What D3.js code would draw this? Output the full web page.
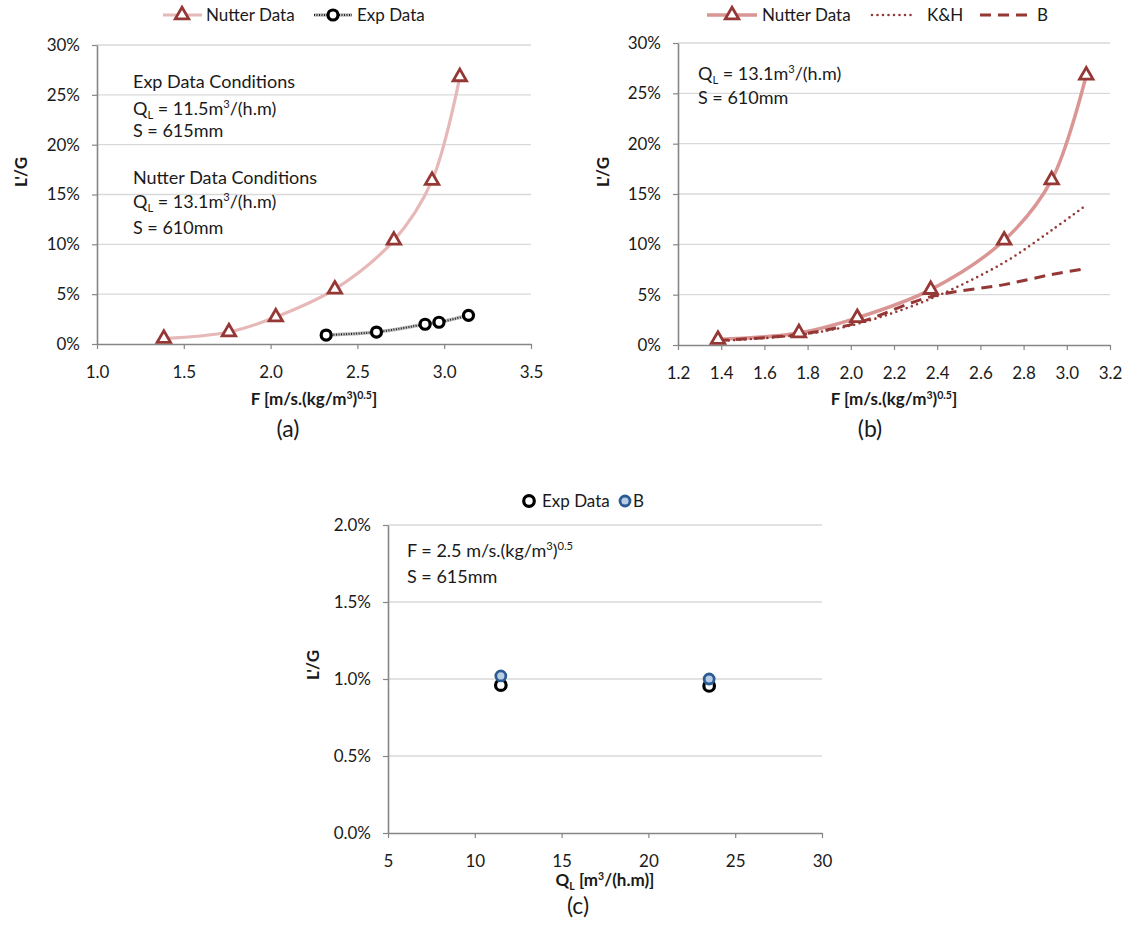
<!DOCTYPE html>
<html>
<head>
<meta charset="utf-8">
<script src="https://cdn.jsdelivr.net/npm/d3@7"></script>
<style>
  body { margin: 0; background: #fff; }
  svg text { font-family: Lato, "Open Sans", sans-serif; fill: #1a1a1a; }
</style>
</head>
<body>
<div id="chart"></div>
<script>
const width = 1130, height = 938;

// Nutter data (F vs L'/G), shared by (a) and (b)
const nutterF = [1.385, 1.76, 2.03, 2.37, 2.71, 2.93, 3.09];
const nutterLG = [0.0055, 0.012, 0.027, 0.055, 0.104, 0.164, 0.268];
// experimental data in (a)
const expF = [2.32, 2.61, 2.89, 2.97, 3.14];
const expLG = [0.009, 0.012, 0.0198, 0.0218, 0.0288];
// model curves in (b)
const khLG = [0.004, 0.010, 0.021, 0.046, 0.082, 0.114, 0.139];
const bLG = [0.0045, 0.0105, 0.022, 0.048, 0.060, 0.070, 0.076];
// (c) L'/G vs QL
const qlVals = [11.5, 23.5];
const expQL = [0.0096, 0.00955];
const bQL = [0.0102, 0.0100];

// tick values
const ticksA = [1.0, 1.5, 2.0, 2.5, 3.0, 3.5];
const ticksB = [1.2, 1.4, 1.6, 1.8, 2.0, 2.2, 2.4, 2.6, 2.8, 3.0, 3.2];
const ticksC = [5, 10, 15, 20, 25, 30];
const yTicksAB = [0, 0.05, 0.10, 0.15, 0.20, 0.25, 0.30];
const yTicksC = [0, 0.005, 0.010, 0.015, 0.020];

const AX = "#868686", GRID = "#d9d9d9", DARKRED = "#953735";

const svg = d3.select("#chart").append("svg")
  .attr("width", width)
  .attr("height", height);

// text with sub / superscripts
function rich(g, x, y, parts, size, weight, anchor) {
  const t = g.append("text").attr("x", x).attr("y", y)
    .attr("font-size", size)
    .attr("font-weight", weight || null)
    .attr("text-anchor", anchor || "start");
  let cur = 0;
  parts.forEach(([s, k]) => {
    const off = k === "sup" ? -0.38 * size : k === "sub" ? 0.22 * size : 0;
    t.append("tspan")
      .attr("dy", off - cur)
      .attr("font-size", k === "n" ? size : size * 0.62)
      .text(s);
    cur = off;
  });
  return t;
}

function frame(x, y, xTicks, yTicks, xFmt, yFmt) {
  const g = svg.append("g");
  g.append("g").selectAll("line")
    .data(yTicks.filter(d => d > 0))
    .join("line")
    .attr("x1", x.range()[0]).attr("x2", x.range()[1])
    .attr("y1", d => y(d)).attr("y2", d => y(d))
    .attr("stroke", GRID).attr("stroke-width", 1.3);

  const xa = g.append("g")
    .attr("transform", `translate(0,${y.range()[0]})`)
    .call(d3.axisBottom(x).tickValues(xTicks).tickFormat(xFmt)
      .tickSize(5).tickSizeOuter(0).tickPadding(17));
  const ya = g.append("g")
    .attr("transform", `translate(${x.range()[0]},0)`)
    .call(d3.axisLeft(y).tickValues(yTicks).tickFormat(yFmt)
      .tickSize(5).tickSizeOuter(0).tickPadding(12));
  [xa, ya].forEach(a => {
    a.attr("font-family", null).attr("font-size", 17);
    a.select(".domain").attr("stroke", AX).attr("stroke-width", 1.6);
    a.selectAll(".tick line").attr("stroke", AX).attr("stroke-width", 1.2);
    a.selectAll(".tick text").attr("fill", "#1a1a1a");
  });
  return g;
}

function yTitle(g, cx, cy) {
  g.append("text")
    .attr("transform", `translate(${cx},${cy}) rotate(-90)`)
    .attr("text-anchor", "middle")
    .attr("font-size", 17).attr("font-weight", "bold")
    .text("L'/G");
}

const triangle = d3.symbol(d3.symbolTriangle, 78);
const fTitle = [["F [m/s.(kg/m", "n"], ["3", "sup"], [")", "n"], ["0.5", "sup"], ["]", "n"]];
const smooth = d3.curveCatmullRom.alpha(0.5);

// ---------- (a) ----------
{
  const x = d3.scaleLinear().domain([1.0, 3.5]).range([97, 531]);
  const y = d3.scaleLinear().domain([0, 0.30]).range([344, 45]);
  const g = frame(x, y, ticksA, yTicksAB, d3.format(".1f"), d3.format(".0%"));

  const line = d3.line().x(d => x(d[0])).y(d => y(d[1])).curve(smooth);
  const nut = nutterF.map((f, i) => [f, nutterLG[i]]);
  const exp = expF.map((f, i) => [f, expLG[i]]);

  g.append("path").attr("d", line(nut)).attr("fill", "none")
    .attr("stroke", "#e6b9b8").attr("stroke-width", 3.2);
  g.append("path").attr("d", line(exp)).attr("fill", "none")
    .attr("stroke", "#bdbdbd").attr("stroke-width", 3.5);
  g.append("path").attr("d", line(exp)).attr("fill", "none")
    .attr("stroke", "#222").attr("stroke-width", 2).attr("stroke-dasharray", "1,1.5");

  g.selectAll(".tri").data(nut).join("path")
    .attr("transform", d => `translate(${x(d[0])},${y(d[1])})`)
    .attr("d", triangle).attr("fill", "#fff")
    .attr("stroke", DARKRED).attr("stroke-width", 2.8);
  g.selectAll(".circ").data(exp).join("circle")
    .attr("cx", d => x(d[0])).attr("cy", d => y(d[1])).attr("r", 5)
    .attr("fill", "#fff").attr("stroke", "#000").attr("stroke-width", 3.2);

  // legend
  g.append("line").attr("x1", 163).attr("x2", 202).attr("y1", 15).attr("y2", 15)
    .attr("stroke", "#e6b9b8").attr("stroke-width", 3.2);
  g.append("path").attr("transform", "translate(182,15)").attr("d", triangle)
    .attr("fill", "#fff").attr("stroke", DARKRED).attr("stroke-width", 2.8);
  g.append("text").attr("x", 206).attr("y", 21).attr("font-size", 17).text("Nutter Data");
  g.append("line").attr("x1", 314).attr("x2", 352).attr("y1", 15).attr("y2", 15)
    .attr("stroke", "#bdbdbd").attr("stroke-width", 3.5);
  g.append("line").attr("x1", 314).attr("x2", 352).attr("y1", 15).attr("y2", 15)
    .attr("stroke", "#222").attr("stroke-width", 2).attr("stroke-dasharray", "1,1.5");
  g.append("circle").attr("cx", 333).attr("cy", 15).attr("r", 5)
    .attr("fill", "#fff").attr("stroke", "#000").attr("stroke-width", 3.2);
  g.append("text").attr("x", 357).attr("y", 21).attr("font-size", 17).text("Exp Data");

  // notes
  g.append("text").attr("x", 133).attr("y", 88).attr("font-size", 18).text("Exp Data Conditions");
  rich(g, 133, 115, [["Q", "n"], ["L", "sub"], [" = 11.5m", "n"], ["3", "sup"], ["/(h.m)", "n"]], 18);
  g.append("text").attr("x", 133).attr("y", 137).attr("font-size", 18).text("S = 615mm");
  g.append("text").attr("x", 133).attr("y", 184).attr("font-size", 18).text("Nutter Data Conditions");
  rich(g, 133, 208, [["Q", "n"], ["L", "sub"], [" = 13.1m", "n"], ["3", "sup"], ["/(h.m)", "n"]], 18);
  g.append("text").attr("x", 133).attr("y", 234).attr("font-size", 18).text("S = 610mm");

  yTitle(g, 27, 172);
  rich(g, 314, 405, fTitle, 17, "bold", "middle");
  g.append("text").attr("x", 288).attr("y", 437).attr("text-anchor", "middle")
    .attr("font-size", 23).text("(a)");
}

// ---------- (b) ----------
{
  const x = d3.scaleLinear().domain([1.2, 3.2]).range([678, 1110]);
  const y = d3.scaleLinear().domain([0, 0.30]).range([345, 43]);
  const g = frame(x, y, ticksB, yTicksAB, d3.format(".1f"), d3.format(".0%"));

  const line = d3.line().x(d => x(d[0])).y(d => y(d[1])).curve(smooth);
  const nut = nutterF.map((f, i) => [f, nutterLG[i]]);
  const kh = nutterF.map((f, i) => [f, khLG[i]]);
  const bb = nutterF.map((f, i) => [f, bLG[i]]);

  g.append("path").attr("d", line(nut)).attr("fill", "none")
    .attr("stroke", "#d99694").attr("stroke-width", 3.5);
  g.append("path").attr("d", line(kh)).attr("fill", "none")
    .attr("stroke", DARKRED).attr("stroke-width", 2.6)
    .attr("stroke-dasharray", "0,5.5").attr("stroke-linecap", "round");
  g.append("path").attr("d", line(bb)).attr("fill", "none")
    .attr("stroke", DARKRED).attr("stroke-width", 3)
    .attr("stroke-dasharray", "11,7");

  g.selectAll(".tri").data(nut).join("path")
    .attr("transform", d => `translate(${x(d[0])},${y(d[1])})`)
    .attr("d", triangle).attr("fill", "#fff")
    .attr("stroke", DARKRED).attr("stroke-width", 2.8);

  // legend
  g.append("line").attr("x1", 707).attr("x2", 757).attr("y1", 15).attr("y2", 15)
    .attr("stroke", "#d99694").attr("stroke-width", 3.5);
  g.append("path").attr("transform", "translate(732,15)").attr("d", triangle)
    .attr("fill", "#fff").attr("stroke", DARKRED).attr("stroke-width", 2.8);
  g.append("text").attr("x", 762).attr("y", 21).attr("font-size", 17).text("Nutter Data");
  g.append("line").attr("x1", 872).attr("x2", 911).attr("y1", 15).attr("y2", 15)
    .attr("stroke", DARKRED).attr("stroke-width", 2.6)
    .attr("stroke-dasharray", "0,5.5").attr("stroke-linecap", "round");
  g.append("text").attr("x", 927).attr("y", 21).attr("font-size", 17).text("K&H");
  g.append("line").attr("x1", 980).attr("x2", 1033).attr("y1", 15).attr("y2", 15)
    .attr("stroke", DARKRED).attr("stroke-width", 3).attr("stroke-dasharray", "11,7");
  g.append("text").attr("x", 1037).attr("y", 21).attr("font-size", 17).text("B");

  rich(g, 698, 80, [["Q", "n"], ["L", "sub"], [" = 13.1m", "n"], ["3", "sup"], ["/(h.m)", "n"]], 18);
  g.append("text").attr("x", 698).attr("y", 104).attr("font-size", 18).text("S = 610mm");

  yTitle(g, 609, 172);
  rich(g, 894, 405, fTitle, 17, "bold", "middle");
  g.append("text").attr("x", 870).attr("y", 437).attr("text-anchor", "middle")
    .attr("font-size", 23).text("(b)");
}

// ---------- (c) ----------
{
  const x = d3.scaleLinear().domain([5, 30]).range([388, 822]);
  const y = d3.scaleLinear().domain([0, 0.02]).range([833, 525]);
  const g = frame(x, y, ticksC, yTicksC, d3.format("d"), d3.format(".1%"));

  const expPts = qlVals.map((q, i) => [q, expQL[i]]);
  const bPts = qlVals.map((q, i) => [q, bQL[i]]);

  g.selectAll(".exp").data(expPts).join("circle")
    .attr("cx", d => x(d[0])).attr("cy", d => y(d[1])).attr("r", 5.3)
    .attr("fill", "#fff").attr("stroke", "#000").attr("stroke-width", 3.2);
  g.selectAll(".bm").data(bPts).join("circle")
    .attr("cx", d => x(d[0])).attr("cy", d => y(d[1])).attr("r", 5)
    .attr("fill", "#b9cde5").attr("stroke", "#2c5c93").attr("stroke-width", 2.8);

  // legend
  g.append("circle").attr("cx", 529).attr("cy", 501).attr("r", 5.3)
    .attr("fill", "#fff").attr("stroke", "#000").attr("stroke-width", 3.2);
  g.append("text").attr("x", 542).attr("y", 507).attr("font-size", 17).text("Exp Data");
  g.append("circle").attr("cx", 625).attr("cy", 501).attr("r", 5)
    .attr("fill", "#b9cde5").attr("stroke", "#2c5c93").attr("stroke-width", 2.8);
  g.append("text").attr("x", 633).attr("y", 507).attr("font-size", 17).text("B");

  rich(g, 407, 557, [["F = 2.5 m/s.(kg/m", "n"], ["3", "sup"], [")", "n"], ["0.5", "sup"]], 18);
  g.append("text").attr("x", 407).attr("y", 583).attr("font-size", 18).text("S = 615mm");

  yTitle(g, 319, 665);
  rich(g, 605, 886, [["Q", "n"], ["L", "sub"], [" [m", "n"], ["3", "sup"], ["/(h.m)]", "n"]], 17, "bold", "middle");
  g.append("text").attr("x", 578).attr("y", 914).attr("text-anchor", "middle")
    .attr("font-size", 23).text("(c)");
}
</script>
</body>
</html>
